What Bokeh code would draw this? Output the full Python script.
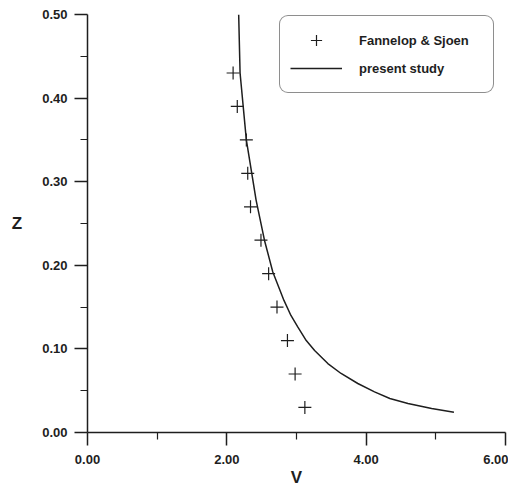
from bokeh.plotting import figure
from bokeh.models import (Range1d, FixedTicker, NumeralTickFormatter, Legend, LegendItem)
from bokeh.embed import file_html
from bokeh.resources import INLINE

# Data
V_pts = [2.09, 2.15, 2.28, 2.30, 2.34, 2.49, 2.60, 2.72, 2.87, 2.98, 3.12]
Z_pts = [0.43, 0.39, 0.35, 0.31, 0.27, 0.23, 0.19, 0.15, 0.11, 0.07, 0.03]

V_line = [2.17, 2.19, 2.28, 2.42, 2.54, 2.66, 2.82, 2.92, 3.02, 3.14, 3.26, 3.45,
          3.64, 3.88, 4.12, 4.34, 4.60, 4.94, 5.26]
Z_line = [0.50, 0.43, 0.35, 0.278, 0.230, 0.192, 0.158, 0.140, 0.126, 0.110, 0.098,
          0.0825, 0.0706, 0.0586, 0.0486, 0.0407, 0.0347, 0.0287, 0.0243]

x_ticks = [0, 2, 4, 6]
x_minor = [1, 3, 5]
y_ticks = [0.0, 0.1, 0.2, 0.3, 0.4, 0.5]
y_minor = [0.05, 0.15, 0.25, 0.35, 0.45]

FONT = "Liberation Sans"
INK = "#1e1e1e"

FW, FH = 418, 418
p = figure(frame_width=FW, frame_height=FH, output_backend="svg", toolbar_location=None,
           x_range=Range1d(0, 6), y_range=Range1d(0, 0.5),
           min_border_left=87, min_border_top=14, min_border_right=3, min_border_bottom=0,
           background_fill_color="white", border_fill_color="white")
p.outline_line_color = None
p.grid.grid_line_color = None

for ax, ticks, minor, lab in ((p.xaxis[0], x_ticks, x_minor, "V"),
                              (p.yaxis[0], y_ticks, y_minor, "Z")):
    ax.ticker = FixedTicker(ticks=ticks, minor_ticks=minor)
    ax.formatter = NumeralTickFormatter(format="0.00")
    ax.axis_label = lab
    ax.axis_label_text_font = FONT
    ax.axis_label_text_font_style = "bold"
    ax.axis_label_text_font_size = "17px"
    ax.axis_label_text_color = INK
    ax.major_label_text_font = FONT
    ax.major_label_text_font_style = "bold"
    ax.major_label_text_font_size = "13px"
    ax.major_label_text_color = INK
    ax.axis_line_color = INK
    ax.axis_line_width = 1.5
    ax.major_tick_line_color = INK
    ax.major_tick_line_width = 1.5
    ax.minor_tick_line_color = INK
    ax.minor_tick_line_width = 1.2
    ax.major_tick_in = 0
    ax.major_tick_out = 13
    ax.minor_tick_in = 0
    ax.minor_tick_out = 7

p.xaxis.major_label_standoff = 9
p.xaxis.axis_label_standoff = 1
p.yaxis.major_label_standoff = 7
p.yaxis.axis_label_standoff = 17
if "axis_label_orientation" in p.yaxis[0].properties():
    p.yaxis[0].axis_label_orientation = "horizontal"

r_pts = p.scatter(V_pts, Z_pts, marker="cross", size=13, line_color=INK, line_width=1.2)
r_line = p.line(V_line, Z_line, line_color=INK, line_width=1.5)

legend = Legend(items=[LegendItem(label="Fannelop & Sjoen", renderers=[r_pts]),
                       LegendItem(label="present study", renderers=[r_line])],
                location=(192, FH - 79))
legend.label_text_font = FONT
legend.label_text_font_style = "bold"
legend.label_text_font_size = "13px"
legend.label_text_color = INK
legend.border_line_color = INK
legend.border_line_width = 1.5
legend.background_fill_color = "white"
legend.background_fill_alpha = 1.0
legend.padding = 10
legend.spacing = 0
legend.glyph_width = 52
legend.glyph_height = 28
legend.label_height = 20
legend.label_standoff = 17
legend.label_width = 124
legend.margin = 0
if "border_radius" in legend.properties():
    legend.border_radius = 9
p.add_layout(legend, "center")

open("out.html", "w").write(file_html(p, INLINE))
